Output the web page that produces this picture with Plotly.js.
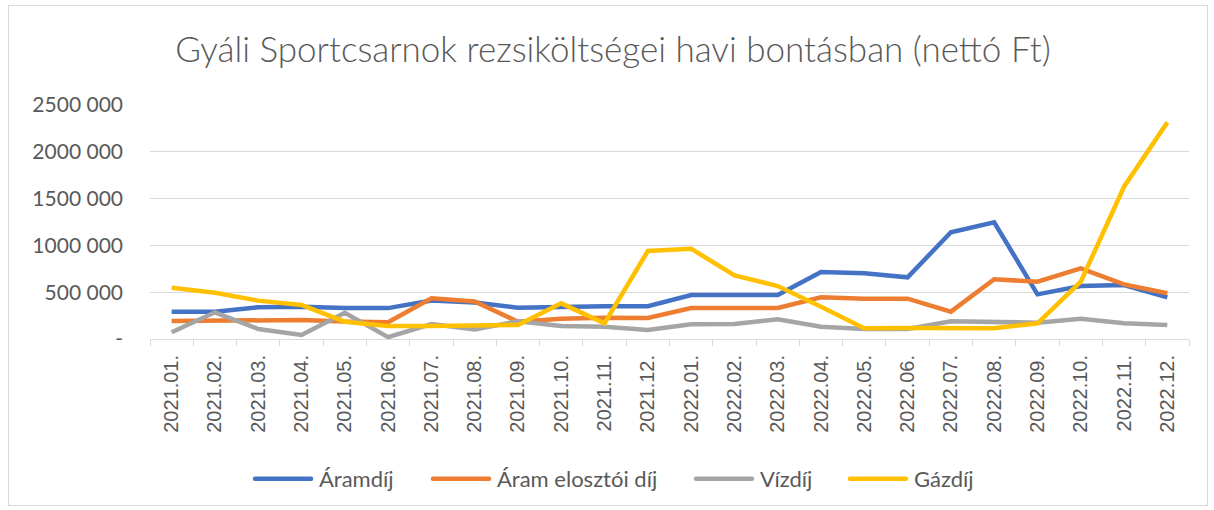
<!DOCTYPE html>
<html><head><meta charset="utf-8">
<script src="https://cdn.plot.ly/plotly-3.0.1.min.js"></script>
<style>
html,body{margin:0;padding:0;background:#fff;}
#wrap{position:relative;width:1214px;height:510px;}
#chart{position:absolute;left:0;top:0;width:1214px;height:510px;}
#frame{position:absolute;left:8px;top:5px;width:1198px;height:499px;border:1px solid #d9d9d9;pointer-events:none;}
</style></head>
<body>
<div id="wrap"><div id="chart"></div><div id="frame"></div></div>
<script>
const months = ["2021.01.","2021.02.","2021.03.","2021.04.","2021.05.","2021.06.","2021.07.","2021.08.","2021.09.","2021.10.","2021.11.","2021.12.",
  "2022.01.","2022.02.","2022.03.","2022.04.","2022.05.","2022.06.","2022.07.","2022.08.","2022.09.","2022.10.","2022.11.","2022.12."];
const aramdij = [290000,290000,340000,345000,330000,330000,410000,390000,335000,345000,350000,350000,470000,470000,470000,716000,702000,659000,1140000,1247000,477000,566000,577000,445000];
const aramElosztoi = [192000,192000,192000,203000,186000,180000,435000,400000,185000,217000,228000,225000,331000,331000,331000,445000,431000,431000,292000,638000,612000,755000,584000,488000];
const vizdij = [72000,285000,107000,43000,281000,20000,160000,103000,190000,139000,132000,96000,157000,160000,210000,132000,107000,107000,190000,185000,174000,217000,168000,150000];
const gazdij = [548000,495000,410000,363000,185000,139000,139000,150000,150000,381000,168000,940000,965000,680000,566000,345000,114000,117000,114000,114000,168000,612000,1627000,2315000];
const seriesNames = ["Áramdíj","Áram elosztói díj","Vízdíj","Gázdíj"];
const yTickVals = [0,500000,1000000,1500000,2000000,2500000];
const yTickText = ["-","500 000","1000 000","1500 000","2000 000","2500 000"];
const titleText = "Gyáli Sportcsarnok rezsiköltségei havi bontásban (nettó Ft)";

const colors = ["#4472C4","#ED7D31","#A5A5A5","#FFC000"];
const vals = [aramdij, aramElosztoi, vizdij, gazdij];
const legendKeys = ["legend","legend2","legend3","legend4"];
const traces = vals.map((v,i)=>({
  type:"scatter", mode:"lines", x:months, y:v, name:seriesNames[i],
  line:{color:colors[i], width:4.5, shape:"linear"}, legend:legendKeys[i],
  hoverinfo:"skip"
}));
const legendFont = {family:"Lato, 'Open Sans', sans-serif", size:22, color:"#595959"};
const legendX = [279, 457, 720, 874];
function mkLegend(px){
  return {xref:"container", yref:"container", x:px/1214, y:(510-479)/510, xanchor:"left", yanchor:"middle",
    orientation:"h", font:legendFont, bgcolor:"rgba(0,0,0,0)", itemwidth:30, tracegroupgap:0};
}
const layout = {
  width:1214, height:510,
  margin:{l:150, r:25, t:105, b:171, pad:0},
  paper_bgcolor:"#fff", plot_bgcolor:"#fff",
  title:{text:titleText, font:{family:"Lato, 'Open Sans', sans-serif", size:35, weight:300, color:"#595959"},
    xref:"container", yref:"container", x:0.505, y:1-50/510, xanchor:"center", yanchor:"middle"},
  xaxis:{type:"category", categoryorder:"array", categoryarray:months, range:[-0.5,23.5],
    tickangle:-90, tickfont:{family:"'Liberation Sans', Arial, sans-serif", size:20, color:"#595959"},
    showgrid:false, showline:true, linecolor:"#d9d9d9", linewidth:1,
    ticks:"outside", tickson:"boundaries", ticklen:6, tickcolor:"#d9d9d9",
    ticklabelstandoff:7, zeroline:false, fixedrange:true},
  yaxis:{range:[0,2500000], tickvals:yTickVals, ticktext:yTickText,
    tickfont:{family:"Lato, 'Open Sans', sans-serif", size:21, color:"#595959"},
    showgrid:true, gridcolor:"#d9d9d9", gridwidth:1, zeroline:false, showline:false,
    ticks:"", ticklabelstandoff:26, fixedrange:true},
  showlegend:true,
  legend:mkLegend(legendX[0]), legend2:mkLegend(legendX[1]), legend3:mkLegend(legendX[2]), legend4:mkLegend(legendX[3])
};
function styleLegends(gd){
  gd.querySelectorAll(".scrollbox, .legend").forEach(s=>s.removeAttribute("clip-path"));
  gd.querySelectorAll(".legendlines path").forEach(p=>{ p.setAttribute("d","M-24,0h56"); p.style.strokeLinecap="round"; });
}
Plotly.newPlot("chart", traces, layout, {displayModeBar:false, staticPlot:true}).then(gd=>{
  styleLegends(gd);
  setTimeout(()=>styleLegends(gd), 50);
});
</script>
</body></html>
